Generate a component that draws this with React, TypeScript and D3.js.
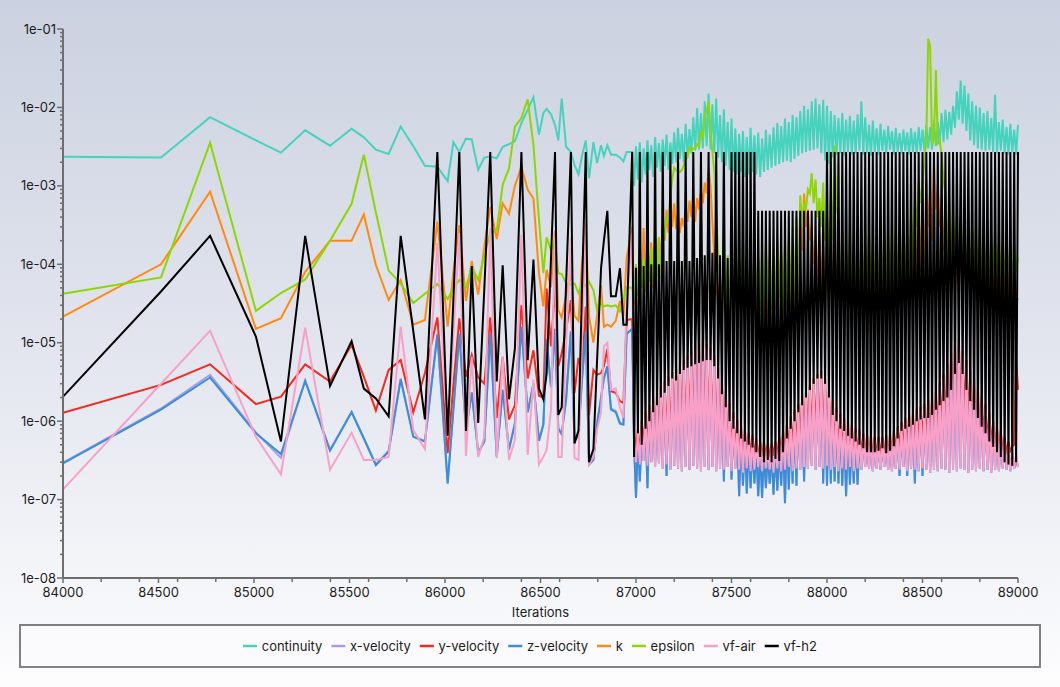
import * as d3 from 'd3';

const WIDTH = 1060;
const HEIGHT = 687;
const plot = { left: 63, right: 1018, top: 29, bottom: 578 };

const seriesNames = ['continuity', 'x-velocity', 'y-velocity', 'z-velocity', 'k', 'epsilon', 'vf-air', 'vf-h2'];
const seriesColors = ['#46d3be', '#a99de0', '#f8281c', '#3a8ed8', '#ff8a0c', '#8ed600', '#f8a0c8', '#000000'];

// iterations of the sparse part (up to ~86950)
const earlyIterations = [
  84000, 84513, 84770, 85010, 85141, 85268, 85398, 85511, 85575, 85638, 85705,
  85768, 85834, 85895, 85960, 86014, 86044, 86075, 86110, 86140, 86174,
  86206, 86237, 86271, 86302, 86335, 86366, 86400, 86433, 86463, 86492,
  86515, 86532, 86555, 86576, 86593, 86611, 86634, 86659, 86678, 86699,
  86717, 86737, 86754, 86777, 86796, 86817, 86832, 86850, 86869, 86894,
  86916, 86934, 86951,
];

const continuityEarly = [
  2.35e-3, 2.3e-3, 7.5e-3, 3.8e-3, 2.65e-3, 5.1e-3, 3.25e-3, 5.35e-3, 4.15e-3, 2.9e-3, 2.55e-3,
  5.7e-3, 3.2e-3, 1.8e-3, 1.75e-3, 1.15e-3, 3.6e-3, 2.7e-3, 4e-3, 3.9e-3, 1.6e-3,
  2.3e-3, 2.35e-3, 2.25e-3, 3.15e-3, 3.4e-3, 3.7e-3, 6.3e-3, 9.3e-3, 1.35e-2, 4.5e-3,
  8.5e-3, 9.6e-3, 8.2e-3, 6e-3, 3.8e-3, 1.3e-2, 3.15e-3, 2.7e-3, 1.85e-3, 1.4e-3,
  2.4e-3, 3.8e-3, 1.25e-3, 3.6e-3, 1.95e-3, 3.3e-3, 2.4e-3, 3.3e-3, 2.5e-3, 2.5e-3,
  2.3e-3, 2.05e-3, 2.7e-3,
];
const xVelocityEarly = [
  2.95e-7, 1.45e-6, 3.9e-6, 7.2e-7, 3.4e-7, 3.3e-6, 4.3e-7, 1.32e-6, 6.1e-7, 2.8e-7, 4.2e-7,
  3.5e-6, 6.4e-7, 5.6e-7, 1.3e-5, 1.65e-7, 1.4e-6, 1.3e-5, 7.8e-7, 2.35e-6, 4e-7,
  5.6e-7, 1.3e-5, 3.6e-7, 2.5e-6, 4.4e-7, 9.5e-7, 1.6e-5, 1.3e-6, 3e-6, 5.8e-7,
  9.2e-7, 1.1e-5, 2.8e-6, 1.5e-5, 8.2e-7, 6.9e-7, 1.9e-6, 1.4e-5, 5.8e-7, 6.6e-7,
  3.3e-6, 1.4e-5, 2.9e-7, 3.3e-7, 9.2e-7, 2e-6, 3.5e-6, 5e-6, 1.45e-6, 1.35e-6,
  9.5e-7, 9.2e-7, 1.3e-5,
];
const yVelocityEarly = [
  1.28e-6, 2.9e-6, 5.3e-6, 1.65e-6, 2.05e-6, 5.3e-6, 3.2e-6, 9.4e-6, 3.7e-6, 1.36e-6, 4.5e-6,
  6e-6, 1.3e-6, 4.1e-6, 2.1e-5, 3.9e-7, 2.9e-6, 2.05e-5, 3.7e-6, 7e-6, 3.6e-6,
  3e-6, 2.1e-5, 1.1e-6, 6.6e-6, 1.05e-6, 1.6e-6, 3e-5, 3.5e-6, 8e-6, 2.1e-6,
  2e-6, 4.9e-5, 9e-6, 5e-5, 5e-6, 7.3e-6, 1.45e-5, 3.5e-5, 2.3e-6, 6.4e-6,
  4.1e-6, 2.9e-5, 1.2e-6, 4.5e-6, 3.9e-6, 4.1e-6, 5e-6, 8.3e-6, 2.4e-6, 2.3e-6,
  1.8e-6, 1.7e-6, 1.95e-5,
];
const zVelocityEarly = [
  2.9e-7, 1.4e-6, 3.6e-6, 7e-7, 3.8e-7, 3.25e-6, 4.2e-7, 1.3e-6, 6e-7, 2.75e-7, 4.1e-7,
  3.4e-6, 6.3e-7, 5.5e-7, 1.27e-5, 1.6e-7, 1.4e-6, 1.3e-5, 7.7e-7, 2.3e-6, 3.9e-7,
  5.5e-7, 1.3e-5, 3.5e-7, 2.5e-6, 4.3e-7, 9.3e-7, 1.6e-5, 1.3e-6, 3e-6, 5.6e-7,
  9e-7, 1.1e-5, 2.7e-6, 1.5e-5, 8e-7, 6.8e-7, 1.9e-6, 1.4e-5, 5.6e-7, 6.5e-7,
  3.3e-6, 1.4e-5, 2.8e-7, 3.2e-7, 9e-7, 2e-6, 3.5e-6, 5e-6, 1.4e-6, 1.3e-6,
  9.3e-7, 9e-7, 1.3e-5,
];
const kEarly = [
  2.15e-5, 1e-4, 8.4e-4, 1.5e-5, 2.05e-5, 8e-5, 2e-4, 2e-4, 4.3e-4, 9.8e-5, 3.5e-5,
  6.3e-5, 1.7e-5, 1.95e-5, 3.5e-4, 1.6e-5, 8e-5, 3.15e-4, 3.4e-5, 1.1e-4, 4.1e-5,
  1.7e-4, 5.4e-4, 2.1e-4, 6e-4, 4.4e-4, 1e-3, 1.75e-3, 8.9e-4, 6.9e-4, 7.7e-5,
  2.9e-5, 8.5e-5, 5.1e-5, 2.7e-4, 2.6e-5, 2.1e-5, 4e-5, 7.7e-5, 2.2e-5, 1.9e-5,
  1e-4, 3.3e-4, 2.2e-5, 1e-5, 2.2e-5, 5.4e-5, 1.6e-5, 1.7e-5, 1.6e-5, 1.9e-5,
  3.4e-5, 2.2e-5, 1.2e-4,
];
const epsilonEarly = [
  4.2e-5, 6.8e-5, 3.55e-3, 2.55e-5, 4.3e-5, 6.4e-5, 2e-4, 5.9e-4, 2.5e-3, 4.6e-4, 8.3e-5,
  5.7e-5, 3.2e-5, 4.2e-5, 5.6e-5, 3.6e-5, 5e-5, 6.3e-5, 5.1e-5, 9.3e-5, 6.3e-5,
  1.3e-4, 2.5e-4, 2.7e-4, 1.03e-3, 1.67e-3, 5.7e-3, 7.3e-3, 1.27e-2, 3.3e-3, 3.7e-4,
  7.7e-5, 2.2e-4, 1.5e-4, 2e-4, 7.7e-5, 7.5e-5, 5.7e-5, 5.5e-5, 5.7e-5, 4.3e-5,
  5.7e-5, 5.3e-5, 6e-5, 4.7e-5, 2.6e-5, 3.2e-5, 2.9e-5, 3e-5, 2.9e-5, 3e-5,
  2.5e-5, 3.5e-5, 5.1e-5,
];
const vfAirEarly = [
  1.35e-7, 3e-6, 1.42e-5, 6.3e-7, 2.1e-7, 1.55e-5, 2.4e-7, 7.1e-7, 3.2e-7, 3.2e-7, 3.5e-7,
  1.6e-5, 7.7e-7, 4.4e-7, 1.87e-4, 6.3e-7, 1.3e-5, 2.5e-4, 3.6e-7, 6.6e-6, 3.5e-7,
  6.3e-7, 2.9e-4, 3.4e-7, 6.6e-6, 3.2e-7, 5.8e-7, 2.4e-4, 3.7e-7, 3.4e-6, 2.8e-7,
  3.5e-7, 4.3e-7, 1.4e-6, 2.2e-4, 3.5e-7, 3.5e-7, 9.5e-6, 2.2e-4, 3.4e-7, 3.2e-7,
  1.1e-5, 3.3e-4, 2.8e-7, 3.5e-7, 7.7e-7, 1.3e-6, 9e-6, 1e-5, 2.5e-6, 2.6e-6,
  1.5e-6, 1.1e-6, 3.5e-5,
];
const vfH2Early = [
  2.05e-6, 4.5e-5, 2.3e-4, 1.2e-5, 5.5e-7, 2.3e-4, 2.8e-6, 1.05e-5, 2.6e-6, 1.95e-6, 1.15e-6,
  2.3e-4, 1.4e-5, 1.05e-6, 2.7e-3, 6.5e-7, 3.6e-5, 2.7e-3, 7.5e-7, 9.5e-5, 9.5e-7,
  5e-5, 2.7e-3, 3.2e-6, 9.7e-5, 1.9e-6, 8.5e-6, 2.7e-3, 6e-6, 1.15e-4, 2.6e-6,
  1.9e-6, 4e-6, 1.2e-4, 2.7e-3, 1.2e-6, 1.5e-6, 5.6e-5, 2.7e-3, 5.2e-7, 7.6e-7,
  4.6e-5, 2.7e-3, 3e-7, 4.4e-7, 5.8e-6, 8.9e-5, 2e-4, 4.8e-4, 3.9e-5, 3.9e-5,
  8.9e-5, 1.7e-5, 1.7e-5,
];

// dense part: one sample every 10 iterations from 86980; even and odd samples listed apart
const denseStart = 86980;
const denseStep = 10;

const continuityDenseEven = [
  2.7e-3, 3.2e-3, 3.6e-3, 3e-3, 3.8e-3, 3.3e-3, 4.2e-3, 3.5e-3, 3.9e-3, 4.5e-3,
  3.6e-3, 4.8e-3, 5.5e-3, 4.6e-3, 6.2e-3, 5.3e-3, 7.5e-3, 9.8e-3, 8.5e-3, 1.2e-2,
  1.5e-2, 1.1e-2, 1.3e-2, 8e-3, 9.5e-3, 6.5e-3, 7.2e-3, 5.4e-3, 4.6e-3, 5e-3,
  4.2e-3, 5.5e-3, 4.4e-3, 4.8e-3, 4e-3, 5.2e-3, 4.5e-3, 5.6e-3, 6.3e-3, 5.8e-3,
  7.2e-3, 6.5e-3, 8e-3, 7.5e-3, 9e-3, 1.05e-2, 9.5e-3, 1.2e-2, 1.3e-2, 1.1e-2,
  1.25e-2, 1.05e-2, 9e-3, 8e-3, 7.3e-3, 8.5e-3, 7e-3, 7.8e-3, 6.8e-3, 8.2e-3,
  1.2e-2, 7.5e-3, 6e-3, 6.8e-3, 5.4e-3, 6.2e-3, 5.2e-3, 5.8e-3, 5e-3, 5.5e-3,
  4.7e-3, 5.2e-3, 4.8e-3, 5.4e-3, 4.9e-3, 5.6e-3, 5.2e-3, 6e-3, 5.6e-3, 7e-3,
  6.5e-3, 8.5e-3, 9.3e-3, 8.8e-3, 1.05e-2, 1.6e-2, 2.2e-2, 1.9e-2, 1.5e-2, 1.2e-2,
  1.05e-2, 1e-2, 8.5e-3, 9e-3, 7.3e-3, 1.45e-2, 6.5e-3, 7e-3, 5.6e-3, 6.2e-3,
  5.2e-3, 6e-3,
];
const continuityDenseOdd = [
  1e-3, 1.2e-3, 1.1e-3, 1.4e-3, 1.6e-3, 1.3e-3, 1.7e-3, 1.5e-3, 1.8e-3, 1.6e-3,
  1.9e-3, 2e-3, 2.2e-3, 2e-3, 2.4e-3, 2.6e-3, 2.8e-3, 2.9e-3, 3e-3, 3.2e-3,
  2.9e-3, 2.6e-3, 2.3e-3, 2e-3, 1.8e-3, 1.6e-3, 1.5e-3, 1.4e-3, 1.5e-3, 1.3e-3,
  1.4e-3, 1.5e-3, 1.4e-3, 1.3e-3, 1.5e-3, 1.6e-3, 1.7e-3, 1.8e-3, 1.9e-3, 2e-3,
  2.1e-3, 2e-3, 2.2e-3, 2.4e-3, 2.6e-3, 2.7e-3, 2.8e-3, 2.9e-3, 3e-3, 2.6e-3,
  2.1e-3, 1.9e-3, 2.3e-3, 2.5e-3, 2.6e-3, 2.4e-3, 2.7e-3, 2.5e-3, 2.6e-3, 2.8e-3,
  2.5e-3, 2.6e-3, 2.4e-3, 2.7e-3, 2.5e-3, 2.8e-3, 2.6e-3, 2.9e-3, 2.5e-3, 2.7e-3,
  2.6e-3, 2.8e-3, 2.5e-3, 2.7e-3, 2.6e-3, 2.8e-3, 2.8e-3, 3e-3, 2.9e-3, 3.2e-3,
  3.4e-3, 3.6e-3, 3.9e-3, 4.5e-3, 5.5e-3, 7e-3, 6.2e-3, 5e-3, 3.8e-3, 3.3e-3,
  3e-3, 2.9e-3, 2.8e-3, 2.9e-3, 2.7e-3, 2.6e-3, 2.8e-3, 2.6e-3, 2.5e-3, 2.7e-3,
  2.5e-3,
];

// z-velocity troughs mostly sit on the vf-air troughs, with deeper dips here and there
const zVelocityDenseEven = [
  1.5e-5, 1.05e-7, 1.7e-7, 3.1e-7, 1.4e-7, 3e-7, 2.6e-7, 2.9e-7, 2.5e-7, 2e-7,
  2.4e-7, 2.7e-7, 2.5e-7, 2.3e-7, 2.6e-7, 2.4e-7, 2.7e-7, 2.5e-7, 2.3e-7, 2.6e-7,
  2.4e-7, 2.6e-7, 2.3e-7, 2.5e-7, 1.7e-7, 2.6e-7, 1.8e-7, 2.5e-7, 1.1e-7, 1.5e-7,
  1.2e-7, 1.4e-7, 1.6e-7, 1.1e-7, 1.05e-7, 1.4e-7, 1.6e-7, 1.15e-7, 1.3e-7, 1.5e-7,
  9e-8, 1.35e-7, 1.6e-7, 1.5e-7, 2.4e-7, 1.7e-7, 2.5e-7, 2.7e-7, 2.4e-7, 2.6e-7,
  1.6e-7, 1.5e-7, 1.6e-7, 1.7e-7, 1.6e-7, 1.5e-7, 1.1e-7, 1.55e-7, 1.6e-7, 1.55e-7,
  2.4e-7, 2.6e-7, 2.5e-7, 2.3e-7, 2.5e-7, 2.4e-7, 2.6e-7, 2.4e-7, 2.3e-7, 2.5e-7,
  2e-7, 2.6e-7, 2e-7, 2.5e-7, 1.6e-7, 2.3e-7, 2e-7, 2.4e-7, 2.2e-7, 2.4e-7,
  2.3e-7, 2.5e-7, 2.4e-7, 2.2e-7, 2.4e-7, 2.3e-7, 2.5e-7, 2.4e-7, 2.2e-7, 2.4e-7,
  2.3e-7, 2.5e-7, 2.3e-7, 2.4e-7, 2.2e-7, 2.4e-7, 2.3e-7, 2.5e-7, 2.4e-7, 2.3e-7,
  2.5e-7, 2.6e-7,
];
const zVelocityDenseOdd = [
  5e-7, 6e-7, 7.5e-7, 9.5e-7, 1.2e-6, 1.45e-6, 1.7e-6, 2e-6, 2.4e-6, 2.7e-6,
  3.1e-6, 3.6e-6, 4e-6, 4.4e-6, 5.1e-6, 6e-6, 6.8e-6, 7.6e-6, 8e-6, 7.2e-6,
  6.4e-6, 5.1e-6, 3.6e-6, 2.5e-6, 1.8e-6, 1.3e-6, 9.5e-7, 7.6e-7, 6.4e-7, 5.8e-7,
  5.3e-7, 4.9e-7, 4.4e-7, 4.2e-7, 4e-7, 3.8e-7, 3.8e-7, 4.1e-7, 4.7e-7, 5.5e-7,
  6.8e-7, 8.5e-7, 1e-6, 1.2e-6, 1.5e-6, 1.8e-6, 2.1e-6, 2.5e-6, 3e-6, 3.2e-6,
  2.5e-6, 1.8e-6, 1.35e-6, 1.1e-6, 9.5e-7, 8e-7, 7.2e-7, 6.6e-7, 6.1e-7, 5.8e-7,
  5.3e-7, 5e-7, 4.8e-7, 4.7e-7, 4.7e-7, 4.7e-7, 4.8e-7, 5.1e-7, 5.6e-7, 6.4e-7,
  7.2e-7, 8e-7, 9e-7, 9.8e-7, 1.05e-6, 1.15e-6, 1.25e-6, 1.35e-6, 1.55e-6, 1.85e-6,
  2.3e-6, 3e-6, 4e-6, 5.5e-6, 7.2e-6, 8.5e-6, 6e-6, 4.4e-6, 3.4e-6, 2.6e-6,
  2e-6, 1.55e-6, 1.25e-6, 9.8e-7, 7.7e-7, 6.4e-7, 5.5e-7, 4.7e-7, 4.1e-7, 3.6e-7,
  3.2e-7,
];
// x-velocity sits on top of z-velocity in the dense part
const xVelocityDenseEven = zVelocityDenseEven;
const xVelocityDenseOdd = zVelocityDenseOdd;

const yVelocityDenseEven = [
  2e-5, 4.2e-7, 3.8e-7, 4.5e-7, 4e-7, 4.8e-7, 4.3e-7, 5e-7, 4.6e-7, 5.3e-7,
  5e-7, 5.6e-7, 5.2e-7, 6e-7, 5.5e-7, 6.2e-7, 5.8e-7, 6.5e-7, 6e-7, 5.6e-7,
  5.2e-7, 4.8e-7, 4.5e-7, 4.2e-7, 4e-7, 3.9e-7, 3.7e-7, 3.8e-7, 3.6e-7, 3.5e-7,
  3.6e-7, 3.4e-7, 3.5e-7, 3.3e-7, 3.4e-7, 3.5e-7, 3.3e-7, 3.6e-7, 3.5e-7, 3.8e-7,
  4e-7, 4.3e-7, 4.6e-7, 5e-7, 5.4e-7, 5.8e-7, 6.2e-7, 6.5e-7, 6.2e-7, 5.8e-7,
  5.4e-7, 5e-7, 4.6e-7, 4.3e-7, 4e-7, 3.8e-7, 3.7e-7, 3.6e-7, 3.5e-7, 3.5e-7,
  3.4e-7, 3.4e-7, 3.5e-7, 3.4e-7, 3.5e-7, 3.6e-7, 3.5e-7, 3.7e-7, 3.8e-7, 4e-7,
  4.2e-7, 4.4e-7, 4.6e-7, 4.8e-7, 5e-7, 5.2e-7, 5.5e-7, 5.8e-7, 6.2e-7, 6.8e-7,
  7.5e-7, 8.5e-7, 1e-6, 1.2e-6, 1.4e-6, 1.5e-6, 1.3e-6, 1.1e-6, 9e-7, 8e-7,
  7e-7, 6.2e-7, 5.6e-7, 5e-7, 4.6e-7, 4.2e-7, 4e-7, 3.8e-7, 3.7e-7, 4e-7,
  5e-7, 2.5e-6,
];
const yVelocityDenseOdd = [
  7e-7, 8e-7, 1e-6, 1.3e-6, 1.6e-6, 2e-6, 2.3e-6, 2.8e-6, 3.2e-6, 3.7e-6,
  4.3e-6, 4.8e-6, 5.4e-6, 6e-6, 6.9e-6, 8e-6, 9.2e-6, 1.03e-5, 1.1e-5, 9.8e-6,
  8.6e-6, 6.9e-6, 4.8e-6, 3.5e-6, 2.4e-6, 1.7e-6, 1.3e-6, 1.05e-6, 8.6e-7, 7.8e-7,
  7.1e-7, 6.7e-7, 6e-7, 5.6e-7, 5.4e-7, 5.2e-7, 5.2e-7, 5.5e-7, 6.3e-7, 7.5e-7,
  9.2e-7, 1.15e-6, 1.4e-6, 1.65e-6, 2.1e-6, 2.4e-6, 2.9e-6, 3.5e-6, 4e-6, 4.4e-6,
  3.5e-6, 2.4e-6, 1.85e-6, 1.5e-6, 1.25e-6, 1.1e-6, 9.8e-7, 9e-7, 8.3e-7, 7.8e-7,
  7.1e-7, 6.8e-7, 6.6e-7, 6.3e-7, 6.3e-7, 6.3e-7, 6.6e-7, 6.9e-7, 7.6e-7, 8.6e-7,
  9.8e-7, 1.1e-6, 1.2e-6, 1.3e-6, 1.45e-6, 1.55e-6, 1.65e-6, 1.85e-6, 2.1e-6, 2.5e-6,
  3.1e-6, 4e-6, 5.4e-6, 7.5e-6, 9.8e-6, 1.15e-5, 8e-6, 6e-6, 4.6e-6, 3.6e-6,
  2.6e-6, 2.1e-6, 1.65e-6, 1.3e-6, 1e-6, 8.6e-7, 7.5e-7, 6.3e-7, 5.5e-7, 4.8e-7,
  6e-6,
];

const kDenseEven = [
  3e-4, 1e-4, 1.5e-4, 2.9e-4, 2e-4, 1.9e-4, 2.5e-4, 2.2e-4, 3e-4, 5e-4,
  7e-4, 6e-4, 4.5e-4, 3.9e-4, 5e-4, 6.5e-4, 8.3e-4, 7e-4, 9e-4, 1.1e-3,
  1.7e-3, 3.5e-4, 5.3e-5, 6e-5, 8e-5, 7e-5, 1e-4, 8e-5, 1.2e-4, 9e-5,
  1.1e-4, 1.3e-4, 1e-4, 1.2e-4, 9e-5, 1.4e-4, 1.1e-4, 1.3e-4, 1e-4, 1.5e-4,
  1.2e-4, 1.6e-4, 2e-4, 3e-4, 6e-4, 8e-4, 5e-4, 3e-4, 2e-4, 2.5e-4,
  1.7e-4, 1.5e-4, 2.5e-4, 1.8e-4, 1.2e-4, 1.6e-4, 1.1e-4, 1.4e-4, 1e-4, 1.5e-4,
  1.2e-4, 1.7e-4, 1.3e-4, 1.6e-4, 1.4e-4, 1.8e-4, 1.5e-4, 2e-4, 1.7e-4, 2.2e-4,
  1.9e-4, 2.5e-4, 2.2e-4, 3e-4, 3.5e-4, 5e-4, 7e-4, 1.2e-3, 9e-4, 1.9e-3,
  1e-3, 7e-4, 5e-4, 4e-4, 3.5e-4, 3e-4, 2.5e-4, 2.8e-4, 2.2e-4, 2.5e-4,
  1.9e-4, 2e-4, 1.7e-4, 1.8e-4, 1.5e-4, 1.6e-4, 1.4e-4, 1.5e-4, 1.3e-4, 1.9e-4,
  1.2e-4, 3.5e-5,
];
const kDenseOdd = [
  3e-5, 4e-5, 5e-5, 4.5e-5, 6e-5, 5e-5, 8e-5, 1.2e-4, 2e-4, 2.5e-4,
  3e-4, 2.8e-4, 2.5e-4, 3e-4, 3.5e-4, 4e-4, 3.5e-4, 5e-4, 6e-4, 8e-4,
  1e-3, 1.2e-4, 3e-5, 2.2e-5, 3.5e-5, 2.5e-5, 2e-5, 3.2e-5, 2.4e-5, 3e-5,
  2.2e-5, 2.8e-5, 3.6e-5, 2.5e-5, 3e-5, 2.1e-5, 3.3e-5, 2.6e-5, 3.8e-5, 2.4e-5,
  3e-5, 2.7e-5, 3.5e-5, 4e-5, 1.5e-4, 3e-4, 2e-4, 1e-4, 6e-5, 5e-5,
  2.5e-5, 4e-5, 3e-5, 4.5e-5, 2.8e-5, 3.6e-5, 2.6e-5, 4.2e-5, 3e-5, 3.8e-5,
  2.7e-5, 4e-5, 3.2e-5, 4.6e-5, 3e-5, 4.4e-5, 3.4e-5, 5e-5, 3.6e-5, 4.8e-5,
  4e-5, 5.5e-5, 4.2e-5, 6e-5, 5e-5, 8e-5, 1e-4, 3e-4, 2e-4, 5e-4,
  3e-4, 1.5e-4, 1e-4, 5e-5, 4e-5, 5.5e-5, 3.8e-5, 5e-5, 3.5e-5, 4.6e-5,
  3.4e-5, 4.4e-5, 3.2e-5, 4.2e-5, 3e-5, 4e-5, 3.2e-5, 3.8e-5, 3e-5, 3.6e-5,
  4e-5,
];

const epsilonDenseEven = [
  5e-5, 1e-4, 1.5e-4, 1.2e-4, 1.9e-4, 1.6e-4, 1.9e-4, 2.2e-4, 2.6e-4, 4e-4,
  7.7e-4, 1.7e-3, 1.5e-3, 1.6e-3, 2.2e-3, 3.1e-3, 3e-3, 3.4e-3, 5e-3, 8e-3,
  1.18e-2, 2.7e-3, 4e-4, 6e-5, 1e-4, 1.3e-4, 9e-5, 1.5e-4, 1.1e-4, 1.7e-4,
  1.2e-4, 1.4e-4, 1.6e-4, 1.1e-4, 1.5e-4, 1.9e-4, 1.3e-4, 1.6e-4, 2e-4, 1.4e-4,
  1.8e-4, 2.2e-4, 3e-4, 4e-4, 7.6e-4, 6e-4, 9e-4, 1.45e-3, 1.2e-3, 7e-4,
  1.1e-3, 5e-4, 8e-4, 3.3e-3, 4e-4, 2e-4, 1.5e-4, 2.5e-4, 1.8e-4, 1.4e-4,
  2.2e-4, 1.7e-4, 2.6e-4, 1.9e-4, 2.4e-4, 2e-4, 3e-4, 2.2e-4, 2.8e-4, 3.2e-4,
  2.5e-4, 3.6e-4, 3e-4, 4.5e-4, 6e-4, 1.1e-3, 1.1e-3, 4e-3, 6e-2, 4e-3,
  3.5e-3, 2.5e-3, 8e-4, 6e-4, 4.5e-4, 3.5e-4, 4e-4, 3e-4, 2.6e-4, 3.2e-4,
  2.4e-4, 2.8e-4, 2.2e-4, 2.5e-4, 2e-4, 2.3e-4, 1.8e-4, 2e-4, 1.6e-4, 1.9e-4,
  1.7e-4, 1.2e-4,
];
const epsilonDenseOdd = [
  3.7e-5, 4e-5, 5e-5, 4.5e-5, 6e-5, 5.5e-5, 7e-5, 6.5e-5, 2.2e-4, 3.5e-4,
  1.2e-3, 1.6e-3, 1.5e-3, 1.8e-3, 2.3e-3, 2.8e-3, 3e-3, 3.2e-3, 4e-3, 9e-3,
  5e-3, 1.5e-3, 1.5e-4, 4.4e-5, 3e-5, 2.5e-5, 3.5e-5, 2.2e-5, 3e-5, 2.6e-5,
  3.8e-5, 2.4e-5, 3.2e-5, 2.8e-5, 2.2e-5, 3.5e-5, 2.6e-5, 3e-5, 4e-5, 2.5e-5,
  3.2e-5, 2.8e-5, 3.6e-5, 4.5e-5, 3e-4, 5e-4, 8e-4, 6e-4, 4e-4, 3e-4,
  2e-4, 1e-4, 2e-4, 5e-4, 4e-5, 3.2e-5, 5e-5, 3.8e-5, 4.5e-5, 3.5e-5,
  5.5e-5, 4e-5, 4.8e-5, 3.6e-5, 6e-5, 4.2e-5, 5e-5, 3.8e-5, 5.5e-5, 4.5e-5,
  6e-5, 5e-5, 4.6e-5, 1e-4, 3e-4, 6e-4, 2e-3, 7.5e-2, 3.3e-3, 3e-2,
  3.8e-3, 1.2e-3, 1e-4, 7e-5, 9e-5, 6e-5, 8e-5, 5.5e-5, 7e-5, 6e-5,
  8e-5, 5.5e-5, 7.5e-5, 6e-5, 9e-5, 6.5e-5, 8e-5, 7e-5, 9e-5, 6e-5,
  8e-5,
];

const vfAirDenseEven = [
  2.5e-4, 3e-7, 2.8e-7, 3.1e-7, 2.7e-7, 3e-7, 2.6e-7, 2.9e-7, 2.5e-7, 2.8e-7,
  2.4e-7, 2.7e-7, 2.5e-7, 2.3e-7, 2.6e-7, 2.4e-7, 2.7e-7, 2.5e-7, 2.3e-7, 2.6e-7,
  2.4e-7, 2.6e-7, 2.3e-7, 2.5e-7, 2.4e-7, 2.6e-7, 2.3e-7, 2.5e-7, 2.4e-7, 2.2e-7,
  2.5e-7, 2.3e-7, 2.4e-7, 2.6e-7, 2.3e-7, 2.5e-7, 2.4e-7, 2.2e-7, 2.5e-7, 2.3e-7,
  2.4e-7, 2.6e-7, 2.3e-7, 2.5e-7, 2.4e-7, 2.6e-7, 2.5e-7, 2.7e-7, 2.4e-7, 2.6e-7,
  2.5e-7, 2.7e-7, 2.4e-7, 2.6e-7, 2.3e-7, 2.5e-7, 2.4e-7, 2.6e-7, 2.3e-7, 2.5e-7,
  2.4e-7, 2.6e-7, 2.5e-7, 2.3e-7, 2.5e-7, 2.4e-7, 2.6e-7, 2.4e-7, 2.3e-7, 2.5e-7,
  2.4e-7, 2.6e-7, 2.3e-7, 2.5e-7, 2.4e-7, 2.3e-7, 2.5e-7, 2.4e-7, 2.2e-7, 2.4e-7,
  2.3e-7, 2.5e-7, 2.4e-7, 2.2e-7, 2.4e-7, 2.3e-7, 2.5e-7, 2.4e-7, 2.2e-7, 2.4e-7,
  2.3e-7, 2.5e-7, 2.3e-7, 2.4e-7, 2.2e-7, 2.4e-7, 2.3e-7, 2.5e-7, 2.4e-7, 2.3e-7,
  2.5e-7, 2.6e-7,
];
const vfAirDenseOdd = [
  6e-7, 7e-7, 9e-7, 1.1e-6, 1.4e-6, 1.7e-6, 2e-6, 2.4e-6, 2.8e-6, 3.2e-6,
  3.7e-6, 4.2e-6, 4.7e-6, 5.2e-6, 6e-6, 7e-6, 8e-6, 9e-6, 9.5e-6, 8.5e-6,
  7.5e-6, 6e-6, 4.2e-6, 3e-6, 2.1e-6, 1.5e-6, 1.1e-6, 9e-7, 7.5e-7, 6.8e-7,
  6.2e-7, 5.8e-7, 5.2e-7, 4.9e-7, 4.7e-7, 4.5e-7, 4.5e-7, 4.8e-7, 5.5e-7, 6.5e-7,
  8e-7, 1e-6, 1.2e-6, 1.45e-6, 1.8e-6, 2.1e-6, 2.5e-6, 3e-6, 3.5e-6, 3.8e-6,
  3e-6, 2.1e-6, 1.6e-6, 1.3e-6, 1.1e-6, 9.5e-7, 8.5e-7, 7.8e-7, 7.2e-7, 6.8e-7,
  6.2e-7, 5.9e-7, 5.7e-7, 5.5e-7, 5.5e-7, 5.5e-7, 5.7e-7, 6e-7, 6.6e-7, 7.5e-7,
  8.5e-7, 9.5e-7, 1.05e-6, 1.15e-6, 1.25e-6, 1.35e-6, 1.45e-6, 1.6e-6, 1.85e-6, 2.2e-6,
  2.7e-6, 3.5e-6, 4.7e-6, 6.5e-6, 8.5e-6, 1e-5, 7e-6, 5.2e-6, 4e-6, 3.1e-6,
  2.3e-6, 1.8e-6, 1.45e-6, 1.15e-6, 9e-7, 7.5e-7, 6.5e-7, 5.5e-7, 4.8e-7, 4.2e-7,
  3.8e-7,
];

const vfH2DenseEven = [
  2.7e-3, 9e-5, 2.7e-3, 9.5e-5, 2.7e-3, 1e-4, 2.7e-3, 1e-4, 2.7e-3, 1.1e-4,
  2.7e-3, 1.1e-4, 2.7e-3, 1.1e-4, 2.7e-3, 1.1e-4, 2.7e-3, 1.2e-4, 2.7e-3, 1.3e-4,
  2.7e-3, 1.4e-4, 2.7e-3, 1.3e-4, 2.7e-3, 1.2e-4, 2.7e-3, 2.7e-3, 2.7e-3, 2.7e-3,
  2.7e-3, 2.7e-3, 2.7e-3, 4.8e-4, 4.8e-4, 4.8e-4, 4.8e-4, 4.8e-4, 4.8e-4, 4.8e-4,
  4.8e-4, 4.8e-4, 4.8e-4, 4.8e-4, 4.8e-4, 4.8e-4, 4.8e-4, 4.8e-4, 4.8e-4, 4.8e-4,
  4.8e-4, 2.7e-3, 2.7e-3, 2.7e-3, 2.7e-3, 2.7e-3, 2.7e-3, 2.7e-3, 2.7e-3, 2.7e-3,
  2.7e-3, 2.7e-3, 2.7e-3, 2.7e-3, 2.7e-3, 2.7e-3, 2.7e-3, 2.7e-3, 2.7e-3, 2.7e-3,
  2.7e-3, 2.7e-3, 2.7e-3, 2.7e-3, 2.7e-3, 2.7e-3, 2.7e-3, 2.7e-3, 2.7e-3, 2.7e-3,
  2.7e-3, 2.7e-3, 2.7e-3, 2.7e-3, 2.7e-3, 2.7e-3, 2.7e-3, 2.7e-3, 2.7e-3, 2.7e-3,
  2.7e-3, 2.7e-3, 2.7e-3, 2.7e-3, 2.7e-3, 2.7e-3, 2.7e-3, 2.7e-3, 2.7e-3, 2.7e-3,
  2.7e-3, 2.7e-3,
];
const vfH2DenseOdd = [
  3.5e-7, 7e-7, 5e-7, 8e-7, 1e-6, 1.3e-6, 1.6e-6, 2e-6, 2.3e-6, 2.8e-6,
  3.5e-6, 3.3e-6, 4e-6, 4.5e-6, 4.8e-6, 5e-6, 5.3e-6, 5.5e-6, 5.8e-6, 6e-6,
  6e-6, 5e-6, 3.5e-6, 2.2e-6, 1.5e-6, 1e-6, 8e-7, 7e-7, 6e-7, 5.5e-7,
  5e-7, 4.6e-7, 4e-7, 3.5e-7, 3e-7, 3.2e-7, 3e-7, 3.3e-7, 3.1e-7, 4e-7,
  6e-7, 8e-7, 1e-6, 1.3e-6, 1.6e-6, 2e-6, 2.5e-6, 3e-6, 3.5e-6, 3.5e-6,
  3e-6, 2e-6, 1.2e-6, 1e-6, 8e-7, 7.5e-7, 6.5e-7, 6e-7, 5.5e-7, 5e-7,
  4.5e-7, 4e-7, 4e-7, 4e-7, 4.2e-7, 4.5e-7, 3.9e-7, 4.2e-7, 4.8e-7, 6e-7,
  7.5e-7, 8e-7, 8.5e-7, 9e-7, 1e-6, 1.05e-6, 1.1e-6, 1.1e-6, 1.2e-6, 1.4e-6,
  1.6e-6, 1.8e-6, 2e-6, 2.5e-6, 4e-6, 5.5e-6, 4e-6, 2.5e-6, 1.8e-6, 1.4e-6,
  1.1e-6, 8.5e-7, 7e-7, 5.5e-7, 4.7e-7, 4e-7, 3.5e-7, 3e-7, 2.8e-7, 2.7e-7,
  3e-7,
];

const earlyValues = [continuityEarly, xVelocityEarly, yVelocityEarly, zVelocityEarly, kEarly, epsilonEarly, vfAirEarly, vfH2Early];
const denseEven = [continuityDenseEven, xVelocityDenseEven, yVelocityDenseEven, zVelocityDenseEven, kDenseEven, epsilonDenseEven, vfAirDenseEven, vfH2DenseEven];
const denseOdd = [continuityDenseOdd, xVelocityDenseOdd, yVelocityDenseOdd, zVelocityDenseOdd, kDenseOdd, epsilonDenseOdd, vfAirDenseOdd, vfH2DenseOdd];

type Pt = [number, number];

function buildSeries(idx: number): Pt[] {
  const pts: Pt[] = earlyValues[idx].map((v, i) => [earlyIterations[i], v] as Pt);
  const even = denseEven[idx];
  const odd = denseOdd[idx];
  let n = 0;
  for (let i = 0; i < even.length; i++) {
    pts.push([denseStart + n * denseStep, even[i]]);
    n++;
    if (i < odd.length) {
      pts.push([denseStart + n * denseStep, odd[i]]);
      n++;
    }
  }
  return pts;
}

const FONT = "Inter, 'Noto Sans', sans-serif";

function textWidth(s: string) {
  const c = document.createElement('canvas').getContext('2d');
  if (!c) return s.length * 6.5;
  c.font = `13px ${FONT}`;
  return c.measureText(s).width;
}

export default function App() {
  const xScale = d3.scaleLinear().domain([84000, 89000]).range([plot.left, plot.right]);
  const yScale = d3.scaleLog().domain([1e-8, 1e-1]).range([plot.bottom, plot.top]);

  const line = d3.line<Pt>()
    .x(d => xScale(d[0]))
    .y(d => yScale(d[1]));

  const xMajor = xScale.ticks(10);
  const xMinor = xScale.ticks(20).filter(t => !xMajor.includes(t));
  const yAll = yScale.ticks();
  const isMajor = (t: number) => Math.abs(Math.log10(t) - Math.round(Math.log10(t))) < 1e-9;
  const yMajor = yAll.filter(isMajor);
  const yMinor = yAll.filter(t => !isMajor(t));
  const fmtY = (t: number) => {
    const e = Math.round(Math.log10(t));
    return `1e${e < 0 ? '-' : '+'}${String(Math.abs(e)).padStart(2, '0')}`;
  };

  // legend layout: swatch, gap, label, gap; whole row centred in the box
  const swatch = 14;
  const widths = seriesNames.map(textWidth);
  const total = widths.reduce((s, w) => s + swatch + 4.7 + w + 9, 0) - 9;
  let lx = 530 - total / 2;
  const legendItems = seriesNames.map((name, i) => {
    const item = { name, color: seriesColors[i], x: lx };
    lx += swatch + 4.7 + widths[i] + 9;
    return item;
  });

  return (
    <svg width={WIDTH} height={HEIGHT} style={{ position: 'absolute', left: 0, top: 0 }}
      fontFamily={FONT}>
      <defs>
        <linearGradient id="bg" x1="0" y1="0" x2="0" y2="1">
          <stop offset="0%" stopColor="#cbd1e0" />
          <stop offset="50%" stopColor="#e2e5ee" />
          <stop offset="88%" stopColor="#f6f7fa" />
          <stop offset="100%" stopColor="#fdfdfe" />
        </linearGradient>
        <clipPath id="plotClip">
          <rect x={plot.left} y={plot.top - 2} width={plot.right - plot.left + 1} height={plot.bottom - plot.top + 2} />
        </clipPath>
      </defs>
      <rect x={0} y={0} width={WIDTH} height={HEIGHT} fill="url(#bg)" />

      <g clipPath="url(#plotClip)">
        {seriesNames.map((name, i) => (
          <path key={name} d={line(buildSeries(i)) || ''} fill="none"
            stroke={seriesColors[i]} strokeWidth={2} />
        ))}
      </g>

      {/* y axis */}
      <line x1={plot.left} x2={plot.left} y1={plot.top} y2={plot.bottom} stroke="#6e6e6e" strokeWidth={2} />
      {yMinor.map(t => (
        <line key={`ym${t}`} x1={plot.left - 3} x2={plot.left} y1={yScale(t)} y2={yScale(t)} stroke="#6e6e6e" strokeWidth={1.5} />
      ))}
      {yMajor.map(t => (
        <g key={`yM${t}`}>
          <line x1={plot.left - 6} x2={plot.left} y1={yScale(t)} y2={yScale(t)} stroke="#6e6e6e" strokeWidth={1.5} />
          <text x={plot.left - 7} y={yScale(t) + 4.5} textAnchor="end" fontSize={13} fill="#1c1c1c">{fmtY(t)}</text>
        </g>
      ))}

      {/* x axis */}
      <line x1={plot.left} x2={plot.right} y1={plot.bottom} y2={plot.bottom} stroke="#6e6e6e" strokeWidth={2} />
      {xMinor.map(t => (
        <line key={`xm${t}`} x1={xScale(t)} x2={xScale(t)} y1={plot.bottom} y2={plot.bottom + 4} stroke="#6e6e6e" strokeWidth={1.5} />
      ))}
      {xMajor.map(t => (
        <g key={`xM${t}`}>
          <line x1={xScale(t)} x2={xScale(t)} y1={plot.bottom} y2={plot.bottom + 5} stroke="#6e6e6e" strokeWidth={1.5} />
          <text x={xScale(t)} y={plot.bottom + 19} textAnchor="middle" fontSize={13} fill="#1c1c1c">{t}</text>
        </g>
      ))}
      <text x={(plot.left + plot.right) / 2} y={617} textAnchor="middle" fontSize={13} fill="#1c1c1c">Iterations</text>

      {/* legend */}
      <rect x={20} y={625} width={1020} height={42} fill="#fbfbfd" stroke="#808080" strokeWidth={2} />
      {legendItems.map(it => (
        <g key={it.name}>
          <line x1={it.x} x2={it.x + swatch} y1={646} y2={646} stroke={it.color} strokeWidth={2.5} />
          <text x={it.x + swatch + 4.7} y={650.5} fontSize={13} fill="#1c1c1c">{it.name}</text>
        </g>
      ))}
    </svg>
  );
}
